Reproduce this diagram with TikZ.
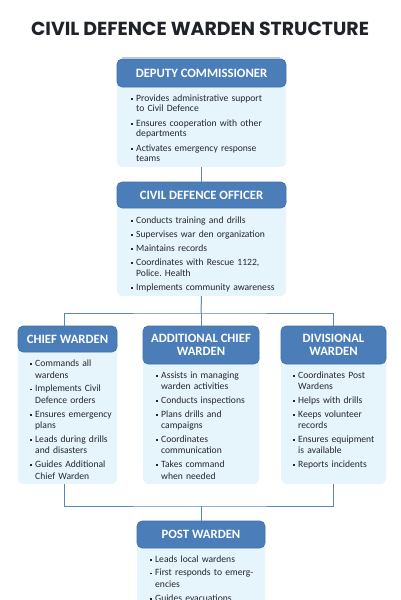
\documentclass[tikz,border=0pt]{standalone}
\usepackage{fontspec}
\setmainfont{Carlito}
\newfontfamily\titlefont{Poppins}
\frenchspacing
\definecolor{hdrblue}{HTML}{4B7EB9}
\definecolor{hdrline}{HTML}{3F6FA8}
\definecolor{bodyblue}{HTML}{E6F4FC}
\definecolor{bodyink}{HTML}{24272D}
\definecolor{connblue}{HTML}{5B86B8}
\definecolor{titleink}{HTML}{1F2329}
\definecolor{ruleblue}{HTML}{B9C8D8}
\newlength\itmgap
\newcommand\itm[1]{\par\noindent\hangindent=5pt\hangafter=1\strut\makebox[5pt][l]{\raisebox{1.6pt}{\rule{1.8pt}{1.8pt}}}#1\par\vskip\itmgap}
\begin{document}
\begin{tikzpicture}[x=1pt,y=-1pt,
  hdr/.style={draw=hdrline, fill=hdrblue, rounded corners=5pt, text=white,
    font=\fontsize{12.7}{13}\selectfont\bfseries, align=center, inner sep=0pt, line width=0.6pt},
  bodybox/.style={fill=bodyblue, rounded corners=6pt, inner sep=0pt},
  bodytext/.style={anchor=north west, inner sep=0pt, text width=#1, text=bodyink},
  conn/.style={draw=connblue, line width=1pt}
]
\useasboundingbox (0,0) rectangle (400,600);
\fill[white] (0,0) rectangle (400,600);

% title
\node[font=\titlefont\bfseries\fontsize{18.9}{22}\selectfont, text=titleink] (title) at (200,29) {CIVIL DEFENCE WARDEN STRUCTURE};
\draw[ruleblue, line width=0.8pt] (122,57.5) -- (280,57.5);

% Deputy Commissioner
\node[bodybox, minimum width=169pt, minimum height=94pt] (dcb) at (201.5,120) {};
\node[hdr, minimum width=169pt, minimum height=28pt] (dch) at (201.5,73) {DEPUTY COMMISSIONER};
\node[bodytext=152pt, font=\fontsize{9.6}{10}\selectfont\setlength\itmgap{5pt}\raggedright] (dct) at (131,91) {%
\itm{Provides administrative support\newline to Civil Defence}%
\itm{Ensures cooperation with other\newline departments}%
\itm{Activates emergency response\newline teams}};

% Civil Defence Officer
\node[bodybox, minimum width=169pt, minimum height=101pt] (cdb) at (201.5,245.5) {};
\node[hdr, minimum width=169pt, minimum height=26pt] (cdh) at (201.5,195) {CIVIL DEFENCE OFFICER};
\node[bodytext=153pt, font=\fontsize{9.6}{11}\selectfont\setlength\itmgap{3pt}\raggedright] (cdt) at (131,212.3) {%
\itm{Conducts training and drills}%
\itm{Supervises war den organization}%
\itm{Maintains records}%
\itm{Coordinates with Rescue 1122,\newline Police. Health}%
\itm{Implements community awareness}};

% Chief Warden
\node[bodybox, minimum width=99pt, minimum height=145pt] (cwb) at (67.5,411.5) {};
\node[hdr, minimum width=99pt, minimum height=26pt] (cwh) at (67.5,339) {CHIEF WARDEN};
\node[bodytext=86pt, font=\fontsize{9.6}{11.5}\selectfont\setlength\itmgap{2.2pt}\raggedright] (cwt) at (30,355) {%
\itm{Commands all\newline wardens}%
\itm{Implements Civil\newline Defence orders}%
\itm{Ensures emergency\newline plans}%
\itm{Leads during drills\newline and disasters}%
\itm{Guides Additional\newline Chief Warden}};

% Additional Chief Warden
\node[bodybox, minimum width=116pt, minimum height=139pt] (acb) at (201,414.5) {};
\node[hdr, minimum width=116pt, minimum height=38pt] (ach) at (201,345) {ADDITIONAL CHIEF\\WARDEN};
\node[bodytext=101pt, font=\fontsize{9.6}{11.5}\selectfont\setlength\itmgap{2.2pt}\raggedright] (act) at (156,366.5) {%
\itm{Assists in managing\newline warden activities}%
\itm{Conducts inspections}%
\itm{Plans drills and\newline campaigns}%
\itm{Coordinates\newline communication}%
\itm{Takes command\newline when needed}};

% Divisional Warden
\node[bodybox, minimum width=105pt, minimum height=139pt] (dwb) at (333.5,414.5) {};
\node[hdr, minimum width=105pt, minimum height=38pt] (dwh) at (333.5,345) {DIVISIONAL\\WARDEN};
\node[bodytext=92pt, font=\fontsize{9.6}{11.5}\selectfont\setlength\itmgap{2.2pt}\raggedright] (dwt) at (293,366.5) {%
\itm{Coordinates Post\newline Wardens}%
\itm{Helps with drills}%
\itm{Keeps volunteer\newline records}%
\itm{Ensures equipment\newline is available}%
\itm{Reports incidents}};

% Post Warden
\node[bodybox, minimum width=128pt, minimum height=86pt] (pwb) at (201,577) {};
\node[hdr, minimum width=128pt, minimum height=27pt] (pwh) at (201,534.5) {POST WARDEN};
\node[bodytext=113pt, font=\fontsize{9.6}{11.5}\selectfont\setlength\itmgap{2.2pt}\raggedright] (pwt) at (150,550.5) {%
\itm{Leads local wardens}%
\itm{First responds to emerg-\newline encies}%
\itm{Guides evacuations}};

% connectors
\coordinate (busA) at (201,313);
\coordinate (busB) at (201,506);
\draw[conn] (dcb.south) -- (cdh.north);
\draw[conn] (cdb.south) -- (busA);
\draw[conn] ([xshift=-3.5pt]cwh.north) |- (busA) -| (dwh.north);
\draw[conn] (busA) -- (ach.north);
\draw[conn] ([xshift=-3.5pt]cwb.south) |- (busB) -| (dwb.south);
\draw[conn] (busB) -- (pwh.north);
\end{tikzpicture}
\end{document}
